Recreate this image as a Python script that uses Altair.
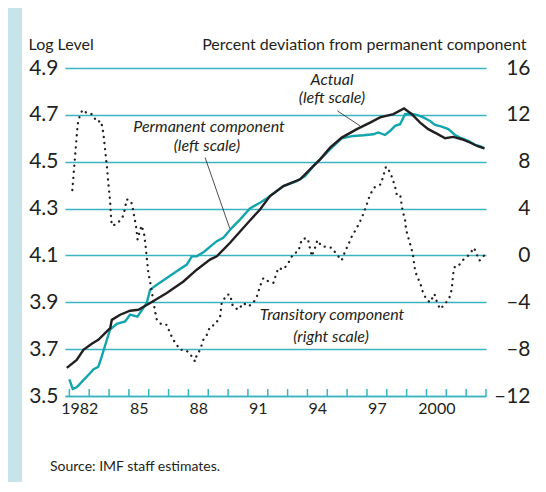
import altair as alt
import pandas as pd

# ---------------- data ----------------
act_year = [1981.87, 1982.37, 1982.71, 1983.13, 1983.46, 1983.80, 1984.06, 1984.14, 1984.56,
            1985.06, 1985.48, 1986.07, 1986.91, 1987.75, 1988.42, 1989.09, 1989.43, 1990.10,
            1991.10, 1991.61, 1992.11, 1992.79, 1993.63, 1994.13, 1994.64, 1995.14, 1995.73,
            1996.49, 1997.16, 1997.66, 1998.33, 1998.87, 1999.26, 1999.68, 2000.09, 2000.52,
            2000.94, 2001.35, 2001.78, 2002.19, 2002.61, 2002.92]
act_val = [3.620, 3.654, 3.697, 3.723, 3.740, 3.768, 3.790, 3.825, 3.847,
           3.864, 3.868, 3.897, 3.940, 3.989, 4.039, 4.082, 4.096, 4.154,
           4.249, 4.296, 4.353, 4.396, 4.425, 4.467, 4.510, 4.560, 4.603,
           4.639, 4.667, 4.689, 4.703, 4.727, 4.703, 4.667, 4.639, 4.620,
           4.600, 4.606, 4.596, 4.582, 4.565, 4.557]

perm_year = [1982.00, 1982.17, 1982.37, 1982.71, 1983.04, 1983.21, 1983.46, 1983.63, 1983.89,
             1984.05, 1984.39, 1984.81, 1985.06, 1985.43, 1985.90, 1986.07, 1986.41, 1986.91,
             1987.41, 1987.92, 1988.17, 1988.42, 1988.79, 1989.43, 1989.76, 1990.19, 1990.60,
             1991.10, 1991.61, 1992.11, 1992.79, 1993.46, 1993.88, 1994.30, 1994.80, 1995.31,
             1995.73, 1996.31, 1996.82, 1997.32, 1997.57, 1997.91, 1998.16, 1998.42, 1998.67,
             1998.92, 1999.17, 1999.51, 1999.84, 2000.18, 2000.43, 2000.77, 2001.10, 2001.44,
             2001.69, 2002.11, 2002.45, 2002.70, 2002.92]
perm_val = [3.571, 3.530, 3.537, 3.568, 3.597, 3.613, 3.625, 3.668, 3.740,
            3.783, 3.808, 3.818, 3.847, 3.839, 3.897, 3.954, 3.975, 4.004,
            4.032, 4.061, 4.096, 4.096, 4.116, 4.161, 4.175, 4.218, 4.253,
            4.301, 4.325, 4.353, 4.396, 4.417, 4.439, 4.482, 4.524, 4.567,
            4.600, 4.610, 4.613, 4.617, 4.625, 4.614, 4.631, 4.653, 4.660,
            4.703, 4.706, 4.700, 4.689, 4.674, 4.657, 4.650, 4.639, 4.614,
            4.603, 4.589, 4.572, 4.567, 4.557]

trans_year = [1982.15, 1982.25, 1982.35, 1982.42, 1982.49, 1982.66, 1982.91, 1983.16, 1983.38,
              1983.60, 1983.71, 1983.80, 1983.89, 1983.97, 1984.05, 1984.10, 1984.14, 1984.34,
              1984.61, 1984.72, 1984.81, 1984.89, 1985.11, 1985.20, 1985.36, 1985.44, 1985.54,
              1985.65, 1985.77, 1985.84, 1985.89, 1985.98, 1986.07, 1986.20, 1986.32, 1986.41,
              1986.66, 1986.91, 1987.04, 1987.24, 1987.41, 1987.58, 1987.83, 1988.08, 1988.17,
              1988.34, 1988.42, 1988.59, 1988.75, 1988.93, 1989.09, 1989.34, 1989.60, 1989.68,
              1989.93, 1990.10, 1990.24, 1990.52, 1990.77, 1991.02, 1991.27, 1991.45, 1991.61,
              1991.78, 1992.03, 1992.28, 1992.53, 1992.79, 1993.04, 1993.29, 1993.54, 1993.71,
              1993.97, 1994.05, 1994.22, 1994.38, 1994.50, 1994.72, 1994.97, 1995.23, 1995.48,
              1995.73, 1995.90, 1996.06, 1996.23, 1996.49, 1996.74, 1996.95, 1997.16, 1997.41,
              1997.70, 1997.83, 1997.96, 1998.16, 1998.30, 1998.42, 1998.50, 1998.67, 1998.80,
              1998.92, 1998.97, 1999.09, 1999.21, 1999.31, 1999.42, 1999.51, 1999.68, 1999.81,
              1999.98, 2000.18, 2000.40, 2000.52, 2000.68, 2000.90, 2001.15, 2001.27, 2001.35,
              2001.44, 2001.66, 2001.89, 2002.16, 2002.40, 2002.50, 2002.67, 2002.90]
trans_val = [5.58, 7.69, 9.77, 11.20, 11.72, 12.43, 12.12, 12.06, 11.40,
             11.48, 10.49, 9.06, 7.63, 6.07, 4.70, 3.30, 2.55, 2.64,
             3.07, 3.41, 4.07, 4.78, 4.64, 3.98, 2.47, 1.36, 2.04,
             2.55, 1.78, 0.84, -0.01, -1.47, -2.24, -3.52, -4.78, -5.49,
             -5.92, -5.92, -6.49, -7.21, -7.63, -8.06, -8.06, -8.34, -8.64,
             -9.06, -8.49, -8.06, -7.21, -6.78, -6.07, -5.92, -5.21, -4.06,
             -3.35, -3.35, -4.35, -4.64, -4.06, -4.35, -4.06, -3.50, -2.64,
             -1.92, -2.21, -2.35, -1.07, -1.21, -0.64, 0.16, 0.33, 1.36,
             1.50, 1.21, -0.07, 0.65, 1.30, 0.78, 0.73, 0.65, 0.07,
             -0.42, 0.35, 0.93, 1.59, 2.36, 3.21, 4.16, 5.21, 5.87,
             6.07, 6.84, 7.58, 7.12, 6.49, 5.87, 5.21, 5.21, 3.78,
             3.07, 2.21, 1.50, 0.78, 0.16, -1.21, -1.73, -2.35, -3.07,
             -3.72, -4.01, -3.29, -3.93, -4.58, -4.21, -3.64, -2.92, -1.55,
             -0.87, -0.78, -0.30, 0.07, 0.65, 0.22, -0.44, -0.01]

tick_years = list(range(1982, 2004))
label_pos = [1982.5, 1985.5, 1988.5, 1991.5, 1994.5, 1997.5, 2000.5]
label_txt = ["1982", "85", "88", "91", "94", "97", "2000"]
left_ticks = [3.5, 3.7, 3.9, 4.1, 4.3, 4.5, 4.7, 4.9]
right_ticks = [-12, -8, -4, 0, 4, 8, 12, 16]

ann_text = ["Actual", "(left scale)", "Permanent component", "(left scale)",
            "Transitory component", "(right scale)"]
ann_x = [1995.24, 1995.24, 1989.04, 1988.93, 1995.24, 1995.19]
ann_y = [4.827, 4.750, 4.626, 4.545, 3.825, 3.732]

lead_x = [1995.51, 1988.84]
lead_y = [4.717, 4.518]
lead_x2 = [1996.65, 1990.09]
lead_y2 = [4.653, 4.214]

source_note = "Source: IMF staff estimates."

# ---------------- styling ----------------
TEAL_GRID = "#3bb4bf"
TEAL_LINE = "#12a5ae"
BLUE_BG = "#c6e4ea"
INK = "#231f20"
FONT = "Lato"
W, H = 421, 328

act = pd.DataFrame({"year": act_year, "value": act_val})
perm = pd.DataFrame({"year": perm_year, "value": perm_val})
trans = pd.DataFrame({"year": trans_year, "value": trans_val})
ticks = pd.DataFrame({"year": tick_years})
ann = pd.DataFrame({"year": ann_x, "value": ann_y, "text": ann_text})
leads = pd.DataFrame({"year": lead_x, "value": lead_y, "x2": lead_x2, "y2": lead_y2})
one = pd.DataFrame({"a": [0]})

xs = alt.Scale(domain=[1981.78, 2003.0], nice=False, zero=False)
yl = alt.Scale(domain=[3.5, 4.9], nice=False, zero=False)
yr = alt.Scale(domain=[-12, 16], nice=False, zero=False)

label_expr = " : ".join(
    f"datum.value == {p} ? '{t}'" for p, t in zip(label_pos, label_txt)
) + " : ''"

x_axis = alt.Axis(values=label_pos, labelExpr=label_expr, title=None, ticks=False,
                  grid=False, domain=True, domainColor=TEAL_GRID, domainWidth=1.5,
                  labelFontSize=16, labelFont=FONT, labelColor=INK, labelPadding=4,
                  labelOverlap=False, labelFlush=False)

left_axis = alt.Axis(values=left_ticks, format=".1f", grid=True, gridColor=TEAL_GRID,
                     gridWidth=1.5, gridOpacity=1, domain=False, ticks=False,
                     labelFontSize=21, labelFont=FONT, labelColor=INK, labelPadding=7,
                     labelOverlap=False,
                     title="Log Level", titleAngle=0, titleAlign="left",
                     titleBaseline="alphabetic", titleX=-37, titleY=-19,
                     titleFontSize=16, titleFontWeight="normal", titleFont=FONT,
                     titleColor=INK)

right_axis = alt.Axis(values=right_ticks, orient="right", grid=False, domain=False,
                      ticks=False,
                      labelExpr="datum.value < 0 ? '\u2013' + toString(abs(datum.value)) : toString(datum.value)",
                      labelFontSize=21, labelFont=FONT, labelColor=INK, labelPadding=44,
                      labelAlign="right", labelOverlap=False,
                      title="Percent deviation from permanent component", titleAngle=0,
                      titleAlign="right", titleBaseline="alphabetic", titleX=40, titleY=-19,
                      titleFontSize=16, titleFontWeight="normal", titleFont=FONT,
                      titleColor=INK)

X = alt.X("year:Q", scale=xs, axis=x_axis)
YL = alt.Y("value:Q", scale=yl, axis=left_axis)

strip = alt.Chart(one).mark_rect(color=BLUE_BG).encode(
    x=alt.value(-57), x2=alt.value(-43), y=alt.value(-60), y2=alt.value(H + 90)
)

perm_line = alt.Chart(perm).mark_line(color=TEAL_LINE, strokeWidth=2.4).encode(x=X, y=YL)

act_line = alt.Chart(act).mark_line(color=INK, strokeWidth=2.4).encode(x=X, y=YL)

tick_rules = alt.Chart(ticks).mark_rule(color=TEAL_GRID, strokeWidth=1.5).encode(
    x=X, y=alt.value(H), y2=alt.value(H - 7),
)

lead_rules = alt.Chart(leads).mark_rule(color=INK, strokeWidth=0.8).encode(
    x=X, x2="x2:Q", y=YL, y2="y2:Q",
)

ann_marks = alt.Chart(ann).mark_text(font=FONT, fontStyle="italic", fontSize=16,
                                     color=INK, align="center",
                                     baseline="alphabetic").encode(
    x=X, y=YL, text="text:N",
)

source = alt.Chart(one).mark_text(font=FONT, fontSize=14, color=INK, align="left",
                                  baseline="alphabetic", text=source_note).encode(
    x=alt.value(-15), y=alt.value(403)
)

left = alt.layer(strip, perm_line, act_line, tick_rules, lead_rules, ann_marks, source)

trans_line = alt.Chart(trans).mark_line(color=INK, strokeWidth=2.3, strokeDash=[0.1, 6],
                                        strokeCap="round").encode(
    x=X,
    y=alt.Y("value:Q", scale=yr, axis=right_axis),
)

chart = alt.layer(left, trans_line).resolve_scale(y="independent").properties(
    width=W, height=H,
    padding={"left": 57, "top": 60, "right": 50, "bottom": 86},
    autosize=alt.AutoSizeParams(type="none"),
).configure(background="white").configure_view(stroke=None)

chart.save("out.html", embed_options={"renderer": "svg", "actions": False})
